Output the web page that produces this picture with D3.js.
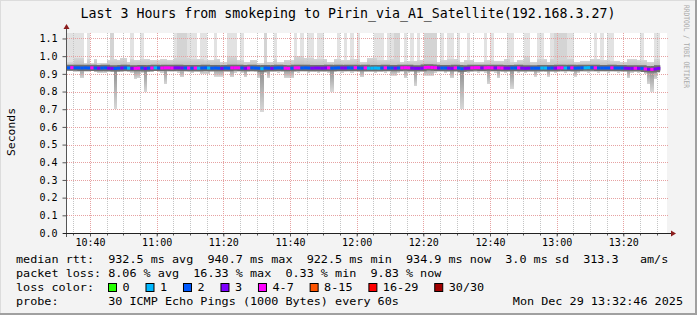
<!DOCTYPE html>
<html><head><meta charset="utf-8">
<script src="https://cdn.jsdelivr.net/npm/d3@7"></script>
<style>
body{margin:0;background:#f3f3f3}
svg{display:block}
text{font-family:"DejaVu Sans Mono",monospace}
</style>
</head><body>
<svg id="c" width="697" height="315"></svg>
<script>
// ---------------- data ----------------
const title = "Last 3 Hours from smokeping to Pirin_via_A1_Satellite(192.168.3.27)";
const startStamp = "2025-12-29 10:33:06";
const spanMinutes = 180;
const yTickLabels = ["0.0","0.1","0.2","0.3","0.4","0.5","0.6","0.7","0.8","0.9","1.0","1.1"];
const xTickLabels = ["10:40","11:00","11:20","11:40","12:00","12:20","12:40","13:00","13:20"];
const yLabel = "Seconds";

// median rtt per minute (seconds)
const median = [
0.934,0.935,0.934,0.934,0.933,0.934,0.933,0.934,0.933,0.932,
0.933,0.934,0.932,0.931,0.930,0.932,0.933,0.934,0.932,0.931,
0.931,0.932,0.933,0.930,0.932,0.933,0.934,0.933,0.933,0.934,
0.934,0.933,0.934,0.934,0.933,0.933,0.933,0.932,0.933,0.932,
0.933,0.934,0.933,0.932,0.933,0.932,0.931,0.933,0.932,0.934,
0.934,0.934,0.933,0.931,0.933,0.934,0.933,0.932,0.929,0.933,
0.932,0.931,0.933,0.934,0.933,0.932,0.931,0.932,0.934,0.934,
0.933,0.934,0.933,0.932,0.933,0.933,0.932,0.933,0.934,0.932,
0.933,0.934,0.933,0.933,0.934,0.933,0.935,0.933,0.932,0.934,
0.932,0.932,0.933,0.932,0.933,0.934,0.933,0.933,0.932,0.933,
0.934,0.935,0.934,0.932,0.931,0.931,0.932,0.936,0.937,0.936,
0.935,0.933,0.933,0.933,0.932,0.931,0.934,0.933,0.929,0.931,
0.932,0.934,0.935,0.935,0.933,0.934,0.935,0.934,0.933,0.934,
0.933,0.932,0.932,0.933,0.933,0.934,0.932,0.931,0.932,0.932,
0.932,0.932,0.933,0.933,0.932,0.933,0.932,0.934,0.934,0.933,
0.933,0.934,0.932,0.933,0.934,0.934,0.935,0.935,0.934,0.933,
0.933,0.933,0.933,0.934,0.933,0.933,0.933,0.932,0.931,0.931,
0.932,0.931,0.931,0.928,0.926,0.925,0.928,0.931];

// lost pings per minute (of 30)
const loss = [
2,5,2,2,2,2,2,5,2,3, 2,2,3,3,2,2,3,2,1,3,
5,5,2,3,2,5,1,2,5,5, 5,5,3,3,3,2,5,2,5,1,
2,2,1,2,2,2,3,2,2,5, 5,5,2,3,5,2,2,2,1,2,
2,3,2,2,2,5,5,2,5,5, 2,2,2,3,3,3,3,3,5,2,
2,2,3,3,2,2,5,2,2,5, 1,1,1,1,2,5,2,2,3,2,
5,5,5,3,3,3,3,5,5,5, 5,3,2,2,3,3,5,2,2,3,
3,5,5,5,3,5,5,5,3,5, 5,3,3,2,2,5,3,3,3,2,
2,2,1,1,2,2,3,5,5,1, 2,5,2,2,2,1,1,2,5,2,
2,2,2,5,2,2,2,3,3,3, 5,3,2,5,3,5,3,3];

// upper body of the smoke (seconds)
const upper = [
0.965,0.965,0.99,0.99,0.99,0.96,0.985,0.96,0.985,0.96,
0.963,0.963,0.978,0.985,0.985,0.98,0.99,0.99,0.968,0.985,
0.98,0.98,0.985,0.985,0.985,0.98,0.98,0.98,0.985,0.985,
0.98,0.98,0.99,0.99,0.99,0.99,0.99,0.985,0.985,0.985,
0.985,0.978,0.98,0.98,0.985,0.985,0.968,0.968,1.0,1.0,
1.0,0.98,0.98,0.968,0.968,0.98,0.98,0.96,0.96,0.985,
0.968,0.968,0.985,0.965,0.965,0.98,0.98,0.98,1.0,1.0,
1.0,0.99,0.99,0.99,0.985,0.985,0.985,0.985,0.968,0.968,
0.985,0.985,0.98,0.98,0.98,0.985,0.985,0.985,0.968,0.968,
0.99,0.99,0.99,0.98,0.98,0.98,0.98,0.985,0.985,0.985,
0.968,0.974,0.974,0.974,0.974,0.978,0.978,0.985,0.985,0.985,
0.985,0.968,0.98,0.98,0.985,0.985,0.985,0.978,0.968,0.98,
0.98,0.98,0.968,0.968,0.968,0.978,0.978,0.978,0.974,0.974,
0.974,0.985,0.985,0.968,0.968,0.978,0.978,1.0,1.0,0.968,
0.968,0.985,0.985,0.985,0.968,0.985,0.985,0.985,0.985,0.985,
0.985,0.985,0.968,0.968,0.974,0.974,0.974,0.985,0.985,0.985,
0.98,0.98,0.98,0.974,0.974,0.974,0.968,0.968,0.985,0.985,
0.985,0.978,0.978,0.978,0.965,0.965,0.985,0.985];

// lowest ping of the smoke (seconds)
const lower = [
0.915,0.915,0.91,0.912,0.875,0.912,0.912,0.915,0.91,0.905,
0.905,0.905,0.912,0.91,0.70,0.912,0.91,0.915,0.912,0.905,
0.87,0.875,0.905,0.795,0.912,0.91,0.915,0.91,0.905,0.84,
0.912,0.91,0.912,0.905,0.88,0.91,0.912,0.905,0.912,0.91,
0.90,0.90,0.90,0.912,0.885,0.885,0.885,0.912,0.91,0.88,
0.905,0.912,0.905,0.88,0.912,0.91,0.912,0.875,0.686,0.905,
0.875,0.91,0.912,0.905,0.912,0.875,0.875,0.875,0.91,0.905,
0.912,0.91,0.905,0.912,0.91,0.905,0.912,0.91,0.905,0.80,
0.91,0.912,0.905,0.91,0.912,0.905,0.91,0.912,0.88,0.91,
0.912,0.91,0.905,0.912,0.91,0.905,0.912,0.89,0.89,0.905,
0.91,0.875,0.905,0.912,0.83,0.905,0.91,0.89,0.89,0.89,
0.905,0.912,0.91,0.905,0.912,0.875,0.91,0.905,0.70,0.91,
0.905,0.912,0.91,0.905,0.912,0.905,0.84,0.91,0.905,0.875,
0.91,0.905,0.912,0.815,0.91,0.905,0.91,0.905,0.912,0.91,
0.885,0.905,0.912,0.91,0.885,0.91,0.905,0.912,0.91,0.905,
0.912,0.91,0.885,0.905,0.912,0.91,0.905,0.912,0.91,0.905,
0.912,0.91,0.905,0.912,0.91,0.905,0.912,0.91,0.875,0.905,
0.91,0.905,0.91,0.90,0.84,0.80,0.87,0.905];

// pings above the top of the chart (0 none, 1 one, 2 several)
const tall = [
1,1,1,1,1,0,1,0,0,0, 0,0,0,2,0,0,0,0,0,1,
0,0,1,0,0,0,0,0,0,0, 0,0,1,2,2,2,1,1,1,0,
1,1,0,0,1,0,0,0,1,1, 1,0,1,0,0,0,0,0,0,2,
0,0,1,0,0,0,0,0,1,0, 1,0,1,1,0,1,1,0,0,0,
0,1,0,1,0,1,0,1,0,0, 0,0,1,1,1,0,1,1,2,2,
0,1,0,1,0,1,0,2,2,2, 2,0,1,0,1,1,0,1,0,0,
1,0,0,0,0,1,0,1,0,0, 0,0,1,1,0,0,0,1,1,0,
0,1,1,0,0,1,2,2,2,2, 1,1,0,0,0,0,0,0,1,0,
1,0,1,1,0,0,0,0,0,0, 0,0,1,0,0,0,1,1];

const lossLegend = ["0","1","2","3","4-7","8-15","16-29","30/30"];
const lossColors = ["#26ff00","#00b8ff","#0059ff","#7e00ff","#ff00ff","#ff5500","#ff0000","#a10000"];
const lossBreaks = [0,1,2,3,4,8,16,30];

const statLines = [
  "median rtt:  932.5 ms avg  940.7 ms max  922.5 ms min  934.9 ms now  3.0 ms sd  313.3   am/s",
  "packet loss: 8.06 % avg  16.33 % max  0.33 % min  9.83 % now"
];
const lossLabel = "loss color:";
const probeLine = "probe:       30 ICMP Echo Pings (1000 Bytes) every 60s";
const dateLine = "Mon Dec 29 13:32:46 2025";
const watermark = "RRDTOOL / TOBI OETIKER";

// ---------------- drawing ----------------
const svg = d3.select("#c");
const W = 697, H = 315;
const L = 67, R = 667, T = 33, B = 233;
const CW = 7.09;

const parse = d3.timeParse("%Y-%m-%d %H:%M:%S");
const t0 = parse(startStamp);
const t1 = d3.timeMinute.offset(t0, spanMinutes);
const x = d3.scaleTime().domain([t0, t1]).range([L, R]);
const y = d3.scaleLinear().domain([0, 1.131]).range([B, T]);
const lossColor = d3.scaleThreshold().domain(lossBreaks.slice(1)).range(lossColors);

svg.append("rect").attr("width", W).attr("height", H).attr("fill", "#f3f3f3");
// frame
svg.append("rect").attr("x",0).attr("y",0).attr("width",W).attr("height",1).attr("fill","#dcdcdc");
svg.append("rect").attr("x",0).attr("y",0).attr("width",1).attr("height",H).attr("fill","#dcdcdc");
svg.append("rect").attr("x",0).attr("y",H-2).attr("width",W).attr("height",2).attr("fill","#a0a0a0");
svg.append("rect").attr("x",W-2).attr("y",0).attr("width",2).attr("height",H).attr("fill","#a0a0a0");

svg.append("rect").attr("x", L).attr("y", T).attr("width", R-L).attr("height", B-T).attr("fill", "#fff");

const defs = svg.append("defs");
defs.append("clipPath").attr("id","plot").append("rect").attr("x",L).attr("y",T).attr("width",R-L).attr("height",B-T);
const gu = defs.append("linearGradient").attr("id","gUp").attr("x1",0).attr("y1",0).attr("x2",0).attr("y2",1);
gu.append("stop").attr("offset",0).attr("stop-color","#d6d6d6");
gu.append("stop").attr("offset",0.6).attr("stop-color","#c4c4c4");
gu.append("stop").attr("offset",1).attr("stop-color","#a4a4a4");
const gl = defs.append("linearGradient").attr("id","gLo").attr("x1",0).attr("y1",0).attr("x2",0).attr("y2",1);
gl.append("stop").attr("offset",0).attr("stop-color","#8e8e8e");
gl.append("stop").attr("offset",1).attr("stop-color","#d8d8d8");

const cols = median.map((m, i) => ({
  t: d3.timeMinute.offset(t0, i), t2: d3.timeMinute.offset(t0, i + 1),
  med: m, loss: loss[i], up: upper[i], lo: lower[i], tall: tall[i]
}));

const smoke = svg.append("g").attr("clip-path","url(#plot)").attr("shape-rendering","crispEdges");
smoke.selectAll("rect.tail").data(cols.filter(d => d.tall > 0)).join("rect")
  .attr("x", d => Math.round(x(d.t))).attr("width", d => Math.round(x(d.t2)) - Math.round(x(d.t)))
  .attr("y", y(y.domain()[1])).attr("height", d => y(d.up) - y(y.domain()[1]))
  .attr("fill", d => d.tall > 1 ? "#d4d4d4" : "#e2e2e2");
smoke.selectAll("rect.up").data(cols).join("rect")
  .attr("x", d => Math.round(x(d.t))).attr("width", d => Math.round(x(d.t2)) - Math.round(x(d.t)))
  .attr("y", d => y(d.up)).attr("height", d => y(d.med) - y(d.up))
  .attr("fill", "url(#gUp)");
smoke.selectAll("rect.lo").data(cols).join("rect")
  .attr("x", d => Math.round(x(d.t))).attr("width", d => Math.round(x(d.t2)) - Math.round(x(d.t)))
  .attr("y", d => y(d.med)).attr("height", d => y(d.lo) - y(d.med))
  .attr("fill", "url(#gLo)");

// grid
const grid = svg.append("g").attr("shape-rendering","crispEdges");
const minor = x.ticks(d3.timeMinute.every(5)).filter(d => d > t0 && d < t1);
const pt = d3.timeParse("%Y-%m-%d %H:%M");
const majorTimes = xTickLabels.map(s => pt("2025-12-29 " + s));
grid.selectAll("line.mn").data(minor).join("line")
  .attr("x1", d => Math.round(x(d)) + 0.5).attr("x2", d => Math.round(x(d)) + 0.5)
  .attr("y1", T).attr("y2", B).attr("stroke", "#c4c4c4").attr("stroke-dasharray","1,1");
const yVals = yTickLabels.map(Number);
grid.selectAll("line.hy").data(yVals.filter(v => v > 0)).join("line")
  .attr("x1", L).attr("x2", R+1).attr("y1", d => Math.round(y(d)) + 0.5).attr("y2", d => Math.round(y(d)) + 0.5)
  .attr("stroke", "#e6a2a2").attr("stroke-dasharray","1,1");
grid.selectAll("line.mj").data(majorTimes).join("line")
  .attr("x1", d => Math.round(x(d)) + 0.5).attr("x2", d => Math.round(x(d)) + 0.5)
  .attr("y1", T).attr("y2", B).attr("stroke", "#e6a2a2").attr("stroke-dasharray","1,1");

// median line
const ml = svg.append("g").attr("clip-path","url(#plot)");
const stepLine = d3.line().x(d => x(d.t)).y(d => y(d.med)).curve(d3.curveStepAfter);
const lastPt = {t: cols[cols.length-1].t2, med: cols[cols.length-1].med};
ml.append("path").datum(cols.concat([lastPt])).attr("d", stepLine)
  .attr("fill","none").attr("stroke","#707070").attr("stroke-width",6);
ml.selectAll("line").data(cols).join("line")
  .attr("x1", d => x(d.t)).attr("x2", d => x(d.t2))
  .attr("y1", d => y(d.med)).attr("y2", d => y(d.med))
  .attr("stroke", d => lossColor(d.loss)).attr("stroke-width", 3);

// axes
const ax = svg.append("g");
const yAxis = d3.axisLeft(y).tickValues(yVals).tickFormat((d,i) => yTickLabels[i]).tickSize(4).tickPadding(5);
const gy = ax.append("g").attr("transform", `translate(${L-0.5},0)`).call(yAxis);
gy.select(".domain").remove();
gy.selectAll("line").attr("stroke","#555");
gy.selectAll("text").attr("font-size", 10).attr("fill","#000").attr("font-family","DejaVu Sans Mono");

const xAxis = d3.axisBottom(x).tickValues(majorTimes).tickFormat((d,i) => xTickLabels[i]).tickSize(3);
const gx = ax.append("g").attr("transform", `translate(0,${B+0.5})`).call(xAxis);
gx.select(".domain").remove();
gx.selectAll("line").attr("stroke","#555");
gx.selectAll("text").attr("y", 12.5).attr("dy", null).attr("font-size", 10).attr("fill","#000").attr("font-family","DejaVu Sans Mono");
gx.selectAll("g.mn").data(minor).join("line")
  .attr("x1", d => Math.round(x(d))+0.5).attr("x2", d => Math.round(x(d))+0.5)
  .attr("y1", 0).attr("y2", 2).attr("stroke","#555");

ax.append("line").attr("x1", L-0.5).attr("x2", L-0.5).attr("y1", B+4).attr("y2", T-4).attr("stroke","#555");
ax.append("line").attr("x1", L-4).attr("x2", R+4).attr("y1", B+0.5).attr("y2", B+0.5).attr("stroke","#222");
ax.append("path").attr("d", `M${L-3.5},${T-4} L${L+2.5},${T-4} L${L-0.5},${T-9} Z`).attr("fill","#8b1c1c");
ax.append("path").attr("d", `M${R+4},${B-2.5} L${R+4},${B+3.5} L${R+9},${B+0.5} Z`).attr("fill","#8b1c1c");

// texts
function mono(sel, str, px, py, size, anchor) {
  return sel.append("text").attr("x", px).attr("y", py).attr("font-size", size)
    .attr("text-anchor", anchor || "start").attr("xml:space","preserve")
    .attr("textLength", str.length * CW).attr("lengthAdjust","spacingAndGlyphs").text(str);
}
svg.append("text").attr("x", 348).attr("y", 18).attr("font-size", 13.3).attr("text-anchor","middle")
  .attr("textLength", 535).attr("lengthAdjust","spacingAndGlyphs").text(title);

svg.append("text").attr("transform","translate(14.5,132) rotate(-90)").attr("text-anchor","middle")
  .attr("font-size", 11).attr("textLength", 48).attr("lengthAdjust","spacingAndGlyphs").text(yLabel);

svg.append("text").attr("transform","translate(684,5) rotate(90)").attr("font-size", 7.5)
  .attr("fill","#aaaaaa").attr("textLength", 83).attr("lengthAdjust","spacingAndGlyphs").text(watermark);

const lg = svg.append("g").attr("fill","#000");
statLines.forEach((s, i) => mono(lg, s, 16, 262.7 + i*14, 11));
mono(lg, lossLabel, 16, 290.7, 11);
let cx = 108.5;
lossLegend.forEach((lab, i) => {
  lg.append("rect").attr("x", cx).attr("y", 283.5).attr("width", 8).attr("height", 8)
    .attr("fill", lossColors[i]).attr("stroke","#000").attr("stroke-width",1);
  mono(lg, lab, cx + 14, 290.7, 11);
  cx = cx + 14 + lab.length * CW + 16.4;
});
mono(lg, probeLine, 16, 304.7, 11);
mono(lg, dateLine, 683, 304.7, 11, "end");
</script>
</body></html>
